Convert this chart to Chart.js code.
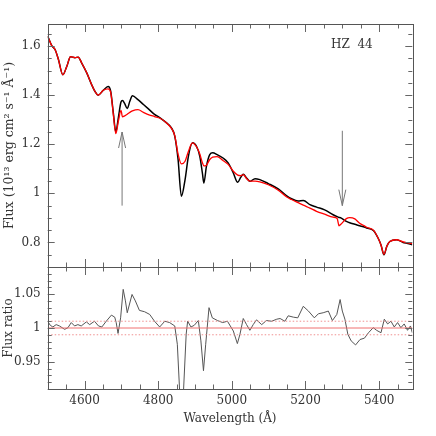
<!DOCTYPE html>
<html>
<head>
<meta charset="utf-8">
<script src="https://cdn.jsdelivr.net/npm/chart.js@4.4.1/dist/chart.umd.min.js"></script>
<style>
  body { margin: 0; background: #fff; }
  #wrap { position: relative; width: 436px; height: 436px; }
  canvas { position: absolute; left: 0; }
</style>
</head>
<body>
<div id="wrap">
  <canvas id="fluxChart" width="436" height="272" style="top:0"></canvas>
  <canvas id="ratioChart" width="436" height="176" style="top:260px"></canvas>
</div>
<script>
// data block
const wavelength = [4500, 4511, 4520, 4529, 4541, 4552, 4562, 4574, 4583, 4592, 4606, 4619, 4628, 4637, 4651,
  4664, 4671, 4678, 4685, 4692, 4699, 4703, 4709, 4716, 4723, 4730, 4745, 4760, 4775, 4790, 4805, 4822,
  4836, 4845, 4854, 4863, 4873, 4882, 4893, 4904, 4913, 4920, 4924, 4931, 4940, 4948, 4960, 4975, 4990,
  5004, 5016, 5024, 5031, 5040, 5049, 5063, 5076, 5099, 5126, 5149, 5162, 5180, 5194, 5212, 5230, 5252,
  5275, 5286, 5291, 5296, 5311, 5320, 5334, 5347, 5357, 5366, 5385, 5397, 5405, 5413, 5421, 5429, 5447,
  5465, 5478, 5490];
const fluxObserved = [1.640, 1.602, 1.586, 1.546, 1.483, 1.518, 1.557, 1.553, 1.555, 1.532, 1.491, 1.444, 1.416, 1.400, 1.420,
  1.435, 1.416, 1.330, 1.250, 1.310, 1.372, 1.378, 1.366, 1.346, 1.375, 1.398, 1.382, 1.362, 1.342, 1.322, 1.308, 1.288,
  1.267, 1.233, 1.138, 0.988, 1.056, 1.151, 1.206, 1.192, 1.151, 1.083, 1.042, 1.110, 1.158, 1.165, 1.158, 1.145, 1.124,
  1.083, 1.045, 1.065, 1.078, 1.063, 1.049, 1.060, 1.056, 1.040, 1.018, 0.990, 0.978, 0.969, 0.971, 0.954, 0.944, 0.933,
  0.913, 0.905, 0.902, 0.900, 0.886, 0.880, 0.874, 0.868, 0.864, 0.859, 0.848, 0.818, 0.790, 0.750, 0.785, 0.804, 0.811,
  0.800, 0.796, 0.790];
const fluxModel = [1.640, 1.602, 1.586, 1.546, 1.483, 1.518, 1.557, 1.553, 1.555, 1.532, 1.491, 1.444, 1.416, 1.400, 1.420,
  1.426, 1.412, 1.325, 1.243, 1.295, 1.338, 1.312, 1.316, 1.322, 1.330, 1.336, 1.341, 1.330, 1.320, 1.313, 1.306, 1.288,
  1.265, 1.235, 1.160, 1.120, 1.131, 1.171, 1.206, 1.190, 1.160, 1.125, 1.112, 1.115, 1.138, 1.148, 1.150, 1.135, 1.118,
  1.090, 1.074, 1.072, 1.076, 1.060, 1.050, 1.050, 1.047, 1.035, 1.013, 0.985, 0.975, 0.962, 0.952, 0.940, 0.927, 0.915,
  0.903, 0.898, 0.868, 0.874, 0.897, 0.901, 0.896, 0.878, 0.870, 0.862, 0.849, 0.818, 0.790, 0.752, 0.785, 0.804, 0.811,
  0.802, 0.798, 0.795];

const ratioWave = [4500, 4507, 4514, 4523, 4532, 4546, 4555, 4564, 4573, 4582, 4591, 4605, 4614, 4627, 4638, 4647, 4659,
  4673, 4682, 4686, 4691, 4698, 4705, 4711, 4716, 4729, 4738, 4749, 4763, 4777, 4790, 4804, 4818, 4831, 4845, 4852,
  4858, 4863, 4869, 4876, 4880, 4889, 4898, 4909, 4916, 4923, 4929, 4938, 4947, 4961, 4975, 4988, 5004, 5015, 5022,
  5031, 5040, 5049, 5058, 5067, 5081, 5094, 5108, 5122, 5131, 5144, 5153, 5167, 5179, 5194, 5208, 5224, 5235, 5248,
  5262, 5273, 5285, 5294, 5300, 5307, 5315, 5324, 5336, 5348, 5360, 5371, 5384, 5393, 5405, 5414, 5423, 5432, 5441,
  5450, 5459, 5468, 5477, 5485, 5490];
const ratioValue = [1.010, 1.004, 1.0015, 1.005, 1.003, 0.998, 1.0005, 1.008, 1.003, 1.005, 1.003, 1.009, 1.005, 1.010, 1.003, 1.0015, 1.010,
  1.019, 1.016, 1.008, 0.992, 1.015, 1.057, 1.040, 1.0225, 1.0495, 1.040, 1.026, 1.024, 1.020, 1.010, 1.0015, 1.010, 1.008, 1.003, 0.976,
  0.910, 0.880, 0.910, 0.991, 1.010, 1.0015, 1.004, 1.011, 0.981, 0.937, 0.976, 1.030, 1.015, 1.011, 1.008, 1.010, 0.9956, 0.977, 0.9907,
  1.014, 1.005, 0.9966, 1.005, 1.012, 1.005, 1.011, 1.010, 1.013, 1.014, 1.010, 1.018, 1.016, 1.015, 1.032, 1.025, 1.015, 1.021, 1.0225,
  1.025, 1.011, 1.020, 1.042, 1.025, 1.013, 0.9907, 0.981, 0.975, 0.983, 0.985, 0.993, 1.0005, 0.9966, 0.993, 1.013, 1.006, 1.010, 1.0015,
  1.008, 1.0005, 1.006, 0.9966, 1.003, 0.993];

const xRange = [4500, 5490];
const fluxTicks = [0.8, 1, 1.2, 1.4, 1.6];
const ratioTicks = [0.95, 1, 1.05];
const ratioLevels = [0.99, 1, 1.01];
// arrows: wavelength, from, to
const arrows = [[4702, 0.95, 1.25], [5300, 1.255, 0.95]];
const starName = 'HZ  44';

const FONT = 'DejaVu Serif';
const INK = '#333';

function pts(xs, ys) {
  return xs.map((v, i) => ({x: v, y: ys[i]}));
}

// frame + inward ticks, pgplot style
const panelFrame = {
  id: 'panelFrame',
  afterDraw(chart, args, opts) {
    const {ctx, chartArea: a, scales: {x, y}} = chart;
    ctx.save();
    ctx.lineWidth = 1;
    ctx.strokeStyle = '#666';
    ctx.beginPath();
    for (let v = 4500; v <= xRange[1]; v += 50) {
      const px = Math.round(x.getPixelForValue(v)) + 0.5;
      const len = v % 200 === 0 ? 8 : 4.5;
      ctx.moveTo(px, a.top); ctx.lineTo(px, a.top + len);
      ctx.moveTo(px, a.bottom); ctx.lineTo(px, a.bottom - len);
    }
    for (let k = opts.kFrom; k <= opts.kTo; k++) {
      const py = Math.round(y.getPixelForValue(k * opts.step)) + 0.5;
      const len = k % opts.majorEvery === 0 ? 7 : 4;
      ctx.moveTo(a.left, py); ctx.lineTo(a.left + len, py);
      ctx.moveTo(a.right, py); ctx.lineTo(a.right - len, py);
    }
    ctx.stroke();
    ctx.strokeStyle = '#555';
    ctx.strokeRect(Math.round(a.left) + 0.5, Math.round(a.top) + 0.5,
      Math.round(a.right - a.left), Math.round(a.bottom - a.top));

    if (opts.arrows) {
      ctx.strokeStyle = '#777';
      ctx.beginPath();
      opts.arrows.forEach(([w, from, to]) => {
        const px = x.getPixelForValue(w);
        const y0 = y.getPixelForValue(from);
        const y1 = y.getPixelForValue(to);
        const dir = y1 < y0 ? 1 : -1;
        ctx.moveTo(px, y0); ctx.lineTo(px, y1);
        ctx.moveTo(px - 3.5, y1 + dir * 16); ctx.lineTo(px, y1); ctx.lineTo(px + 3.5, y1 + dir * 16);
      });
      ctx.stroke();
    }
    if (opts.label) {
      ctx.fillStyle = INK;
      ctx.font = '12px "' + FONT + '"';
      ctx.textAlign = 'center';
      ctx.textBaseline = 'middle';
      ctx.fillText(opts.label, x.getPixelForValue(5326), y.getPixelForValue(1.603));
    }
    ctx.restore();
  }
};

function yAxis(min, max, ticks, title, titleSize) {
  return {
    type: 'linear', min, max,
    grid: {display: false, drawTicks: false},
    border: {display: false},
    afterFit: s => { s.width = 47.7; s.paddingTop = 0; s.paddingBottom = 0; },
    afterBuildTicks: s => { s.ticks = ticks.map(v => ({value: v})); },
    ticks: {
      padding: 7, color: INK, font: {family: FONT, size: 12},
      callback: v => String(+v.toFixed(2))
    },
    title: {display: true, text: title, color: INK, font: {family: FONT, size: titleSize}, padding: {top: 2, bottom: 0}}
  };
}

// top panel
const fluxChart = new Chart(document.getElementById('fluxChart'), {
  type: 'line',
  data: {
    datasets: [
      {label: 'model', data: pts(wavelength, fluxModel), borderColor: '#ff0000', borderWidth: 1.3, order: 1},
      {label: 'HZ 44', data: pts(wavelength, fluxObserved), borderColor: '#000', borderWidth: 1.5, order: 2}
    ]
  },
  options: {
    responsive: false, animation: false,
    layout: {padding: {left: 0, top: 24, right: 23.7, bottom: 5}},
    elements: {point: {radius: 0}, line: {cubicInterpolationMode: 'monotone'}},
    plugins: {
      legend: {display: false}, tooltip: {enabled: false},
      panelFrame: {kFrom: 14, kTo: 33, step: 0.05, majorEvery: 4, arrows, label: starName}
    },
    scales: {
      x: {type: 'linear', min: xRange[0], max: xRange[1], display: false},
      y: yAxis(0.70, 1.69, fluxTicks, 'Flux (10¹³ erg cm² s⁻¹ Å⁻¹)', 12.5)
    }
  },
  plugins: [panelFrame]
});

// bottom panel
const ratioChart = new Chart(document.getElementById('ratioChart'), {
  type: 'line',
  data: {
    datasets: [
      {data: pts(xRange, [ratioLevels[1], ratioLevels[1]]), borderColor: '#f07070', borderWidth: 1, order: 1},
      {data: pts(xRange, [ratioLevels[0], ratioLevels[0]]), borderColor: '#f09090', borderWidth: 1, borderDash: [1.5, 2], order: 2},
      {data: pts(xRange, [ratioLevels[2], ratioLevels[2]]), borderColor: '#f09090', borderWidth: 1, borderDash: [1.5, 2], order: 2},
      {data: pts(ratioWave, ratioValue), borderColor: '#555', borderWidth: 1, order: 3}
    ]
  },
  options: {
    responsive: false, animation: false,
    layout: {padding: {left: 0, top: 7, right: 23.7, bottom: 0}},
    elements: {point: {radius: 0}, line: {tension: 0}},
    plugins: {
      legend: {display: false}, tooltip: {enabled: false},
      panelFrame: {kFrom: 91, kTo: 109, step: 0.01, majorEvery: 5}
    },
    scales: {
      x: {
        type: 'linear', min: xRange[0], max: xRange[1],
        grid: {display: false, drawTicks: false},
        border: {display: false},
        afterFit: s => { s.height = 47; s.paddingLeft = 0; s.paddingRight = 0; },
        afterBuildTicks: s => { s.ticks = [4600, 4800, 5000, 5200, 5400].map(v => ({value: v})); },
        ticks: {padding: 5, color: INK, font: {family: FONT, size: 12}, maxRotation: 0, callback: v => String(v)},
        title: {display: true, text: 'Wavelength (Å)', color: INK, font: {family: FONT, size: 12}, padding: {top: 0, bottom: 10}}
      },
      y: yAxis(0.91, 1.09, ratioTicks, 'Flux ratio', 12)
    }
  },
  plugins: [panelFrame]
});
</script>
</body>
</html>
